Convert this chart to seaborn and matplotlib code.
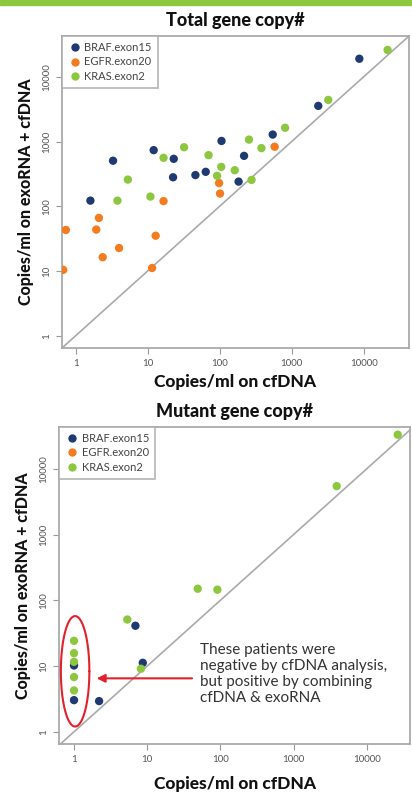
import numpy as np
import pandas as pd
import matplotlib
matplotlib.use("Agg")
import matplotlib.pyplot as plt
from matplotlib.lines import Line2D
from matplotlib.patches import Rectangle
import seaborn as sns

# ---- data ----
genes = ["BRAF.exon15", "EGFR.exon20", "KRAS.exon2"]
colors = ["#1e3a70", "#f47b20", "#8dc63f"]

# Total gene copy#
total_braf_cf = [8700, 2340, 545, 106, 218, 12.1, 23, 3.3, 22.5, 46, 64, 183, 1.6]
total_braf_exo = [19000, 3550, 1280, 1020, 600, 735, 540, 505, 280, 303, 340, 240, 122]
total_egfr_cf = [580, 98, 101, 16.6, 0.73, 2.1, 1.93, 12.9, 4.0, 2.37, 0.67, 11.5]
total_egfr_exo = [830, 228, 157, 120, 43, 66, 43.6, 35, 22.6, 16.3, 10.4, 11.1]
total_kras_cf = [21500, 3220, 810, 255, 380, 32, 70, 16.6, 105, 162, 92, 277, 5.3, 3.8, 10.9]
total_kras_exo = [26000, 4390, 1630, 1070, 790, 815, 615, 560, 405, 360, 295, 255, 258, 122, 141]

# Mutant gene copy#
mut_braf_cf = [6.9, 8.7, 1, 1, 2.2]
mut_braf_exo = [41, 11.2, 10.2, 3.03, 2.93]
mut_kras_cf = [26500, 3880, 49, 91, 5.35, 8.2, 1, 1, 1, 1, 1]
mut_kras_exo = [33000, 5450, 150, 145, 51, 9.1, 24.2, 15.7, 11.6, 6.8, 4.25]

ticks = [1, 10, 100, 1000, 10000]
tick_labels = ["1", "10", "100", "1000", "10000"]

total = pd.DataFrame({
    "cf": total_braf_cf + total_egfr_cf + total_kras_cf,
    "exo": total_braf_exo + total_egfr_exo + total_kras_exo,
    "gene": [genes[0]] * len(total_braf_cf) + [genes[1]] * len(total_egfr_cf)
            + [genes[2]] * len(total_kras_cf),
})
mutant = pd.DataFrame({
    "cf": mut_braf_cf + mut_kras_cf,
    "exo": mut_braf_exo + mut_kras_exo,
    "gene": [genes[0]] * len(mut_braf_cf) + [genes[2]] * len(mut_kras_cf),
})

sns.set_style("white")
plt.rcParams["font.family"] = ["Lato", "DejaVu Sans"]

fig = plt.figure(figsize=(4.12, 7.92), dpi=100)
fig.patches.append(Rectangle((0, 0.9937), 1, 0.0063, transform=fig.transFigure,
                             color="#8dc63f", zorder=0))

ax1 = fig.add_axes([0.1505, 0.5606, 0.8422, 0.3939])
ax2 = fig.add_axes([0.144, 0.0602, 0.851, 0.4010])

palette = dict(zip(genes, colors))


def style_axes(ax, df, title, xlim, ylim, xpad):
    ax.plot([0.01, 1e6], [0.01, 1e6], color="#aaaaaa", lw=1.2, zorder=1)
    sns.scatterplot(data=df, x="cf", y="exo", hue="gene", hue_order=genes,
                    palette=palette, s=36, linewidth=0, legend=False, ax=ax, zorder=3)
    ax.set_xscale("log")
    ax.set_yscale("log")
    ax.set_xlim(*xlim)
    ax.set_ylim(*ylim)
    ax.set_xticks(ticks)
    ax.set_xticklabels(tick_labels)
    ax.set_yticks(ticks)
    ax.set_yticklabels(tick_labels, rotation=90, va="center")
    ax.minorticks_off()
    ax.tick_params(axis="both", which="major", direction="out", length=4, width=0.8,
                   color="#999999", labelsize=7, labelcolor="#555555", pad=4,
                   bottom=True, left=True)
    for sp in ax.spines.values():
        sp.set_color("#aaaaaa")
        sp.set_linewidth(1.3)
    ax.set_title(title, fontsize=13, fontweight="black", color="#111111", pad=7)
    ax.set_xlabel("Copies/ml on cfDNA", fontsize=12.5, fontweight="black",
                  color="#111111", labelpad=xpad)
    ax.set_ylabel("Copies/ml on exoRNA + cfDNA", fontsize=11.5, fontweight="black",
                  color="#111111", labelpad=6)
    handles = [Line2D([], [], marker="o", linestyle="none", markersize=6,
                      markerfacecolor=c, markeredgewidth=0) for c in colors]
    leg = ax.legend(handles, genes, loc="upper left", fontsize=8, frameon=True,
                    fancybox=False, borderaxespad=0, handletextpad=0.25,
                    handlelength=1.2, labelspacing=0.3, borderpad=0.55)
    leg.get_frame().set_edgecolor("#aaaaaa")
    leg.get_frame().set_linewidth(1.3)
    for t in leg.get_texts():
        t.set_color("#444444")


style_axes(ax1, total, "Total gene copy#", (0.645, 42600), (0.645, 42600), 4)
style_axes(ax2, mutant, "Mutant gene copy#", (0.63, 38900), (0.645, 43600), 8)

# red ellipse around the x = 1 group (drawn in log space)
t = np.linspace(0, 2 * np.pi, 200)
ax2.plot(10 ** (0.015 + 0.195 * np.cos(t)), 10 ** (0.92 + 0.84 * np.sin(t)),
         color="#e3212d", lw=1.5, zorder=4)
ax2.annotate("", xy=(2.04, 6.5), xytext=(41, 6.5),
             arrowprops=dict(arrowstyle="-|>", color="#e3212d", lw=1.5,
                             mutation_scale=12, shrinkA=0, shrinkB=0))
ax2.text(52, 22.6, "These patients were\nnegative by cfDNA analysis,\n"
         "but positive by combining\ncfDNA & exoRNA",
         fontsize=11, color="#333333", va="top", ha="left", linespacing=1.18)

fig.savefig("out.png", dpi=100)
